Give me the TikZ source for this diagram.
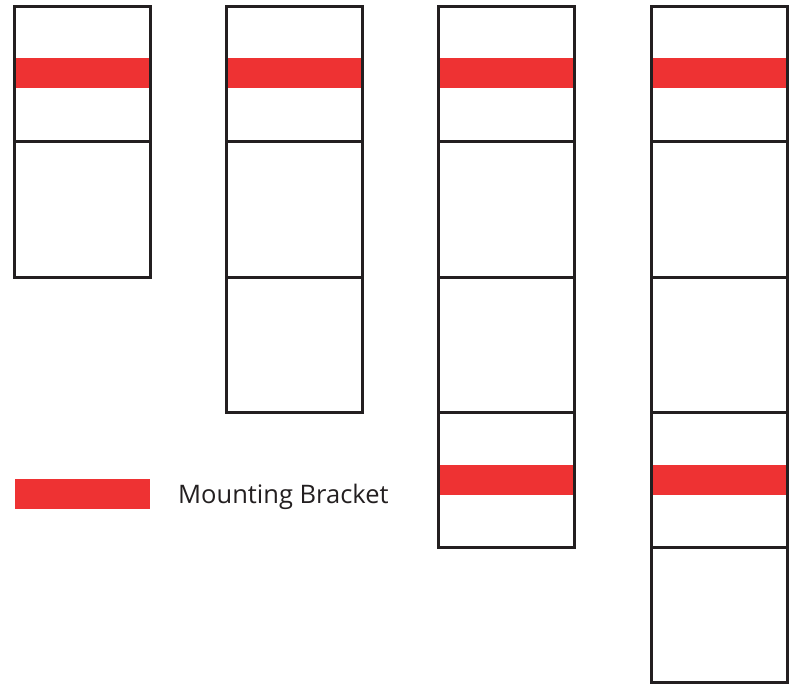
\documentclass[tikz,border=0pt]{standalone}
\usepackage{fontspec}
\setmainfont{Open Sans}
\definecolor{lineclr}{HTML}{231F20}
\definecolor{bracketred}{HTML}{EE3233}
\begin{document}
\begin{tikzpicture}[x=1pt,y=-1pt,
  cell/.style={draw=lineclr,line width=3pt,fill=none,minimum width=136pt,minimum height=135pt,inner sep=0pt,outer sep=0pt},
  band/.style={fill=bracketred,draw=none,minimum width=133pt,minimum height=30pt,inner sep=0pt,outer sep=0pt},
  legendtext/.style={text=lineclr,font=\fontsize{25.5}{30}\selectfont,anchor=base west,inner sep=0pt}]
\useasboundingbox (0,0) rectangle (795,695);
% red bands
\node[band] (b1) at (82,73) {};
\node[band] (b2) at (294.5,73) {};
\node[band] (b3) at (506.5,73) {};
\node[band] (b4) at (719.5,73) {};
\node[band] (b5) at (506.5,479.5) {};
\node[band] (b6) at (719.5,479.5) {};
% column 1
\node[cell] (c11) at (82,74.5) {};
\node[cell] (c12) at (82,209.5) {};
% column 2
\node[cell] (c21) at (294.5,74.5) {};
\node[cell] (c22) at (294.5,209.5) {};
\node[cell] (c23) at (294.5,344.5) {};
% column 3
\node[cell] (c31) at (506.5,74.5) {};
\node[cell] (c32) at (506.5,209.5) {};
\node[cell] (c33) at (506.5,344.5) {};
\node[cell] (c34) at (506.5,479.5) {};
% column 4
\node[cell] (c41) at (719.5,74.5) {};
\node[cell] (c42) at (719.5,209.5) {};
\node[cell] (c43) at (719.5,344.5) {};
\node[cell] (c44) at (719.5,479.5) {};
\node[cell] (c45) at (719.5,614.5) {};
% legend
\node[band,minimum width=135pt] (lg) at (82.5,494) {};
\node[legendtext] (lt) at (178,503) {Mounting Bracket};
\end{tikzpicture}
\end{document}
